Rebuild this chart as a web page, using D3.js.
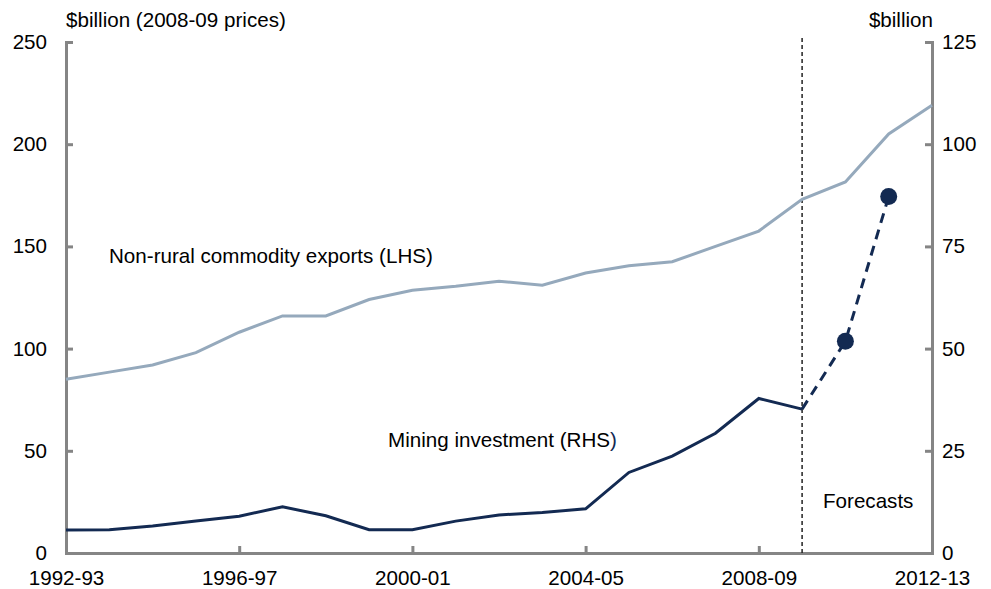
<!DOCTYPE html>
<html lang="en">
<head>
  <meta charset="UTF-8">
  <title>Non-rural commodity exports and mining investment</title>
  <style>
    body { margin: 0; background: #fff; }
    svg text { font-family: "Liberation Sans", Arial, sans-serif; fill: #000; }
    .axis path, .axis line { stroke: #858585; stroke-width: 3; }
    .axis text { font-size: 20.6px; }
  </style>
</head>
<body>
  <div id="chart"></div>

  <script src="https://d3js.org/d3.v7.min.js"></script>
  <script>
    // Data
    const years = ["1992-93", "1993-94", "1994-95", "1995-96", "1996-97", "1997-98", "1998-99",
                   "1999-00", "2000-01", "2001-02", "2002-03", "2003-04", "2004-05", "2005-06",
                   "2006-07", "2007-08", "2008-09", "2009-10", "2010-11", "2011-12", "2012-13"];
    const exportsLHS = [85, 88.5, 92, 98, 108, 116, 116, 124, 128.5, 130.5, 133, 131, 137, 140.5,
                        142.5, 150, 157.5, 173, 181.5, 205, 219];
    const miningRHS = [5.6, 5.7, 6.6, 7.8, 9, 11.3, 9.1, 5.7, 5.7, 7.8, 9.3, 9.9, 10.8, 19.7,
                       23.7, 29.3, 37.8, 35.2];
    const miningForecastYears = ["2009-10", "2010-11", "2011-12"];
    const miningForecast = [35.2, 51.8, 87.2];
    const xTickLabels = ["1992-93", "1996-97", "2000-01", "2004-05", "2008-09", "2012-13"];
    const leftTicks = [0, 50, 100, 150, 200, 250];
    const rightTicks = [0, 25, 50, 75, 100, 125];
    const forecastStart = "2009-10";

    // Dimensions
    const width = 991, height = 589;
    const margin = { top: 42, right: 59, bottom: 36, left: 66 };
    const innerW = width - margin.left - margin.right;
    const innerH = height - margin.top - margin.bottom;
    const fs = "20.6px";

    const svg = d3.select("#chart").append("svg")
      .attr("width", width)
      .attr("height", height);

    const g = svg.append("g")
      .attr("transform", `translate(${margin.left},${margin.top})`);

    // Scales
    const x = d3.scalePoint().domain(years).range([0, innerW]);
    const yL = d3.scaleLinear().domain([0, 250]).range([innerH, 0]);
    const yR = d3.scaleLinear().domain([0, 125]).range([innerH, 0]);

    // Axes
    const xAxis = g.append("g")
      .attr("class", "axis")
      .attr("transform", `translate(0,${innerH})`)
      .call(d3.axisBottom(x).tickValues(xTickLabels).tickSize(-7).tickSizeOuter(0).tickPadding(14));
    xAxis.selectAll("text").attr("dy", "0.88em");

    g.append("g")
      .attr("class", "axis")
      .call(d3.axisLeft(yL).tickValues(leftTicks).tickSize(-7).tickSizeOuter(0).tickPadding(19));

    g.append("g")
      .attr("class", "axis")
      .attr("transform", `translate(${innerW},0)`)
      .call(d3.axisRight(yR).tickValues(rightTicks).tickSize(-7).tickSizeOuter(0).tickPadding(10));

    g.selectAll(".axis .domain").attr("stroke-linecap", "square");

    // Forecast divider
    g.append("line")
      .attr("x1", x(forecastStart)).attr("x2", x(forecastStart))
      .attr("y1", -4).attr("y2", innerH)
      .attr("stroke", "#222")
      .attr("stroke-width", 1.5)
      .attr("stroke-dasharray", "4,3");

    // Lines
    const lineL = d3.line().x((d, i) => x(years[i])).y(d => yL(d));
    const lineR = d3.line().x((d, i) => x(years[i])).y(d => yR(d));

    g.append("path")
      .datum(exportsLHS)
      .attr("fill", "none")
      .attr("stroke", "#95a9bc")
      .attr("stroke-width", 3)
      .attr("d", lineL);

    g.append("path")
      .datum(miningRHS)
      .attr("fill", "none")
      .attr("stroke", "#132a52")
      .attr("stroke-width", 3)
      .attr("d", lineR);

    // Forecast (dashed) with markers
    const lineF = d3.line().x((d, i) => x(miningForecastYears[i])).y(d => yR(d));
    g.append("path")
      .datum(miningForecast)
      .attr("fill", "none")
      .attr("stroke", "#132a52")
      .attr("stroke-width", 3)
      .attr("stroke-dasharray", "10,7")
      .attr("d", lineF);

    g.selectAll(".dot")
      .data(miningForecast.slice(1))
      .enter().append("circle")
      .attr("class", "dot")
      .attr("cx", (d, i) => x(miningForecastYears[i + 1]))
      .attr("cy", d => yR(d))
      .attr("r", 8.5)
      .attr("fill", "#132a52");

    // Unit labels
    svg.append("text")
      .attr("x", margin.left)
      .attr("y", 27)
      .style("font-size", fs)
      .text("$billion (2008-09 prices)");

    svg.append("text")
      .attr("x", margin.left + innerW + 1)
      .attr("y", 27)
      .attr("text-anchor", "end")
      .style("font-size", fs)
      .text("$billion");

    // Series labels
    g.append("text")
      .attr("x", 109 - margin.left)
      .attr("y", 263 - margin.top)
      .style("font-size", fs)
      .text("Non-rural commodity exports (LHS)");

    const mt = g.append("text")
      .attr("x", 388 - margin.left)
      .attr("y", 447 - margin.top)
      .style("font-size", fs);
    mt.append("tspan").text("Mining investment (RHS");
    mt.append("tspan").style("fill", "#132a52").text(")");

    g.append("text")
      .attr("x", 823 - margin.left)
      .attr("y", 508 - margin.top)
      .style("font-size", fs)
      .text("Forecasts");
  </script>
</body>
</html>
